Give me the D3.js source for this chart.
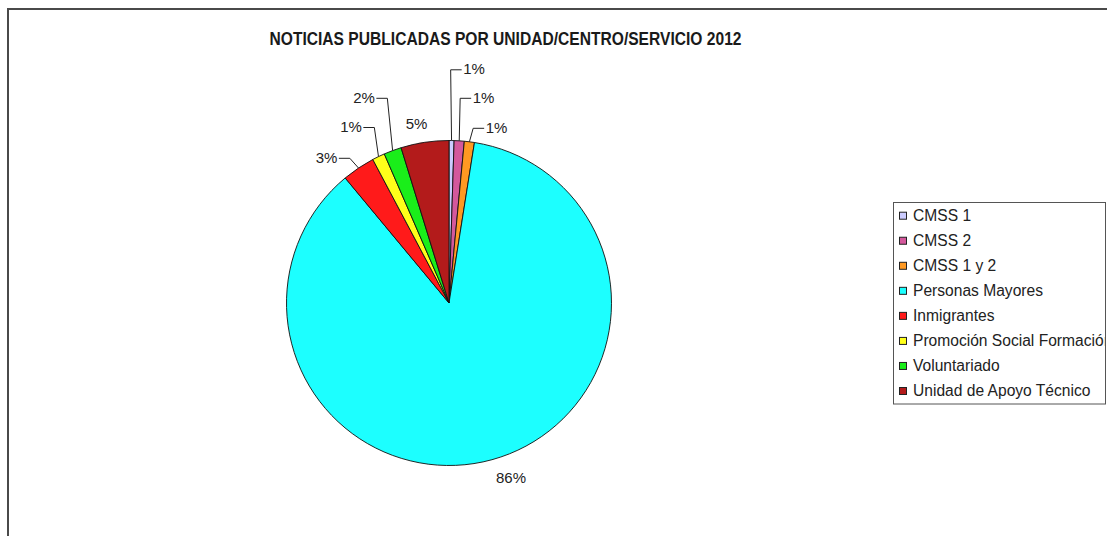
<!DOCTYPE html>
<html>
<head>
<meta charset="utf-8">
<script src="https://cdn.jsdelivr.net/npm/d3@7"></script>
<style>
  html, body { margin: 0; padding: 0; background: #fff; }
  svg { display: block; font-family: "Liberation Sans", Arial, sans-serif; }
</style>
</head>
<body>
<svg id="chart" width="1107" height="536"></svg>
<script>
// ---- data ----
const categories = ["CMSS 1", "CMSS 2", "CMSS 1 y 2", "Personas Mayores", "Inmigrantes",
                    "Promoción Social Formación", "Voluntariado", "Unidad de Apoyo Técnico"];
const values = [2, 4, 4, 345, 13, 5, 7, 19];
const colors = ["#ccccff", "#d4589c", "#ff9922", "#1cffff", "#ff1a1a", "#ffff1a", "#1aee1a", "#b31b1b"];
const title = "NOTICIAS PUBLICADAS POR UNIDAD/CENTRO/SERVICIO 2012";
// label placement (offset of label centre from pie centre) and whether a leader line is drawn
const labelOffsets = [[25, -234], [34.5, -205.5], [47.5, -175.5], [62, 175],
                      [-122.5, -145.5], [-98, -176.3], [-85, -205.5], [-32.5, -179.5]];
const leaders = [true, true, true, false, true, true, true, false];

const svg = d3.select("#chart");
const W = 1107, H = 536;
const cx = 449, cy = 303, R = 162.5;

// outer chart border
svg.append("rect").attr("x", 8).attr("y", 9).attr("width", W + 20).attr("height", H + 20)
  .attr("fill", "#fff").attr("stroke", "#4a4a4a").attr("stroke-width", 2);

// title
svg.append("text").attr("x", 505.5).attr("y", 44.5).attr("text-anchor", "middle")
  .attr("font-size", 18).attr("font-weight", "bold").attr("fill", "#1a1a1a")
  .attr("textLength", 472).attr("lengthAdjust", "spacingAndGlyphs")
  .text(title);

const total = d3.sum(values);
const pie = d3.pie().sort(null).value(d => d).startAngle(0).endAngle(2 * Math.PI);
const arcs = pie(values);
const arc = d3.arc().innerRadius(0).outerRadius(R);
const rim = d3.arc().innerRadius(R).outerRadius(R);

const g = svg.append("g").attr("transform", `translate(${cx},${cy})`);
g.selectAll("path.slice").data(arcs).join("path")
  .attr("class", "slice")
  .attr("d", arc)
  .attr("fill", (d, i) => colors[i])
  .attr("stroke", "#111").attr("stroke-width", 0.9).attr("stroke-linejoin", "round");

// labels
const fmt = v => Math.round(v / total * 100) + "%";
arcs.forEach((d, i) => {
  const [lx, ly] = labelOffsets[i];
  const t = g.append("text").attr("x", lx).attr("y", ly).attr("dy", "0.35em")
    .attr("text-anchor", "middle").attr("font-size", 15).attr("fill", "#222")
    .text(fmt(d.value));
  if (leaders[i]) {
    const w = t.node().getComputedTextLength();
    const [px, py] = rim.centroid(d);
    const toRight = lx > px;
    const ex = toRight ? lx - w / 2 - 1.5 : lx + w / 2 + 1.5;
    const elbowX = toRight ? ex - 11 : ex + 11;
    const lyLine = ly + 0.8;
    g.append("path")
      .attr("d", `M${ex},${lyLine}L${elbowX},${lyLine}L${px},${py}`)
      .attr("fill", "none").attr("stroke", "#222").attr("stroke-width", 1);
  }
});

// legend
const lx0 = 893.5, ly0 = 202.5, lw = 212, lh = 201.5;
const defs = svg.append("defs");
defs.append("clipPath").attr("id", "legclip").append("rect")
  .attr("x", lx0).attr("y", ly0).attr("width", lw - 1).attr("height", lh);
const leg = svg.append("g");
leg.append("rect").attr("x", lx0).attr("y", ly0).attr("width", lw).attr("height", lh)
  .attr("fill", "#fff").attr("stroke", "#555").attr("stroke-width", 1);
const items = leg.append("g").attr("clip-path", "url(#legclip)");
const rowY = d3.scalePoint().domain(categories).range([215.7, 391]);
categories.forEach((c, i) => {
  const y = rowY(c);
  items.append("rect").attr("x", 899.5).attr("y", y - 3.5).attr("width", 7).attr("height", 7)
    .attr("fill", colors[i]).attr("stroke", "#222").attr("stroke-width", 1);
  items.append("text").attr("x", 913).attr("y", y + 5.4)
    .attr("font-size", 15.6).attr("fill", "#222").text(c);
});
</script>
</body>
</html>
